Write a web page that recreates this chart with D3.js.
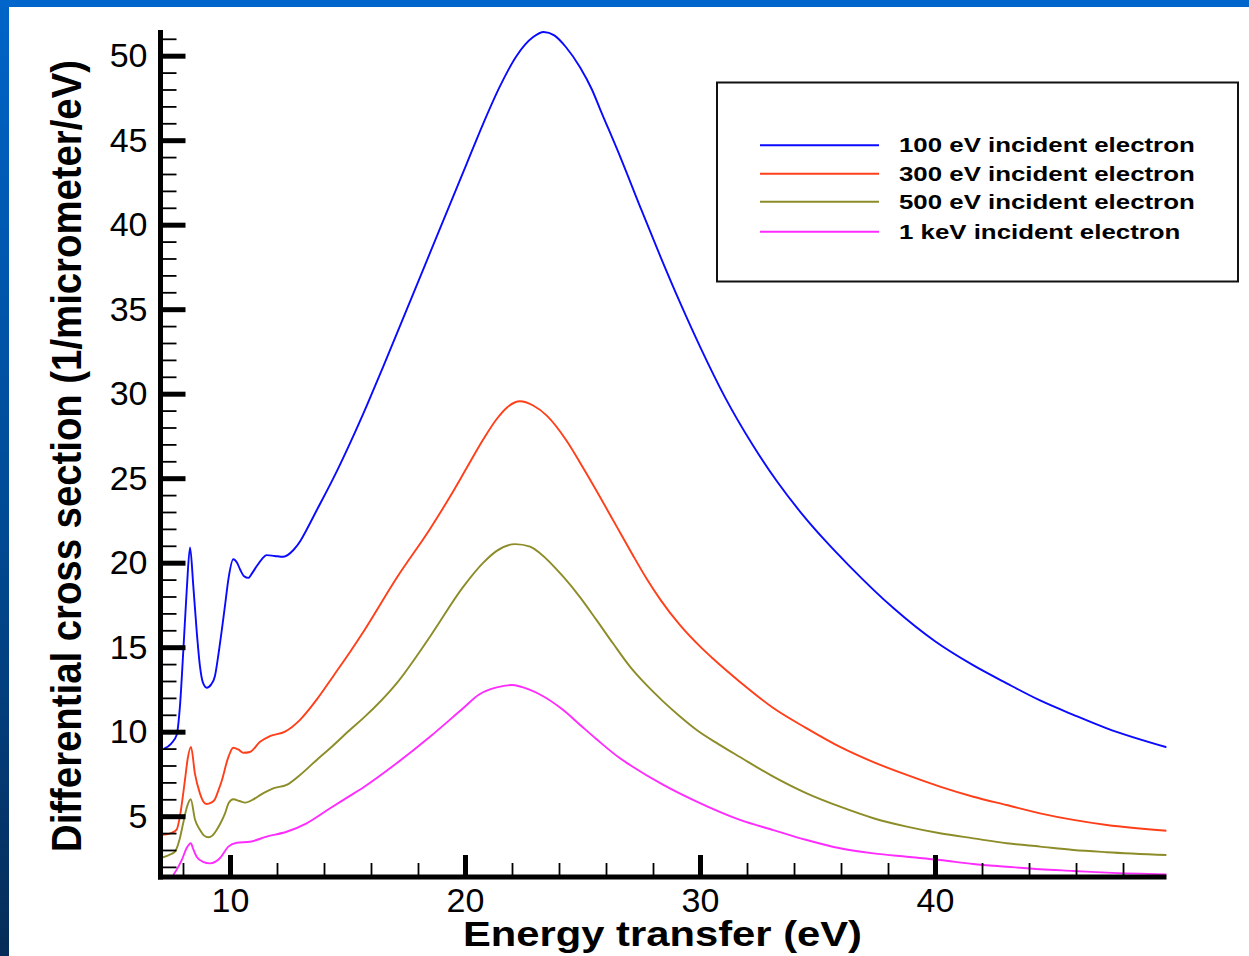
<!DOCTYPE html>
<html>
<head>
<meta charset="utf-8">
<script src="https://cdn.jsdelivr.net/npm/d3@7"></script>
<style>
  html, body { margin: 0; padding: 0; background: #ffffff; }
  svg { display: block; }
  text { font-family: "Liberation Sans", Arial, Helvetica, sans-serif; fill: #000; }
</style>
</head>
<body>
<svg id="chart" width="1249" height="956"></svg>
<script>
// Differential inelastic cross section vs. energy transfer, [E (eV), sigma (1/um/eV)]
const sigma100eV = [
  [7.2, 9.0], [7.5, 9.3], [7.73, 9.8], [7.87, 11.5], [8.01, 14.7], [8.16, 18.4], [8.3, 20.9],
  [8.44, 18.6], [8.58, 16.0], [8.72, 13.9], [8.85, 12.9], [9.01, 12.6], [9.2, 12.8], [9.36, 13.3],
  [9.5, 14.5], [9.65, 16.0], [9.8, 17.6], [9.93, 19.0], [10.14, 20.2], [10.3, 20.0], [10.43, 19.6],
  [10.6, 19.2], [10.78, 19.1], [10.95, 19.4], [11.14, 19.8], [11.35, 20.2], [11.56, 20.45],
  [11.9, 20.4], [12.27, 20.35], [12.7, 20.75], [13.0, 21.3], [13.26, 21.95], [13.69, 23.1],
  [14.4, 25.0], [15.1, 27.05], [15.82, 29.3], [16.52, 31.6], [17.23, 34.0], [17.94, 36.4],
  [18.65, 38.8], [19.36, 41.2], [20.07, 43.6], [20.78, 46.0], [21.49, 48.2], [22.2, 50.0],
  [22.9, 51.1], [23.35, 51.4], [23.8, 51.2], [24.3, 50.5], [24.9, 49.3], [25.4, 48.0],
  [25.76, 46.8], [26.61, 44.0], [27.47, 41.0], [28.32, 38.1], [29.18, 35.3], [30.03, 32.7],
  [31.06, 29.8], [32.25, 26.95], [33.28, 24.8], [34.3, 22.95], [35.33, 21.3], [36.36, 19.8],
  [38.24, 17.3], [40.0, 15.35], [41.6, 13.95], [43.05, 12.86], [44.47, 11.85], [45.89, 11.0],
  [47.31, 10.2], [49.86, 9.08]
];
const sigma300eV = [
  [7.15, 3.9], [7.5, 4.0], [7.73, 4.2], [7.87, 5.0], [8.08, 7.1], [8.2, 8.4], [8.34, 9.1],
  [8.51, 7.5], [8.72, 6.35], [8.85, 5.9], [9.0, 5.72], [9.2, 5.8], [9.36, 6.0], [9.5, 6.5],
  [9.65, 7.1], [9.93, 8.5], [10.14, 9.05], [10.35, 8.95], [10.57, 8.75], [10.85, 8.8],
  [11.28, 9.4], [11.7, 9.74], [12.34, 10.0], [12.98, 10.7], [13.69, 11.9], [14.4, 13.3],
  [15.1, 14.7], [15.67, 15.9], [17.09, 19.1], [18.51, 22.0], [19.36, 23.9], [20.07, 25.6],
  [20.78, 27.3], [21.35, 28.5], [21.8, 29.2], [22.34, 29.55], [22.9, 29.3], [23.48, 28.7],
  [24.33, 27.2], [25.03, 25.6], [25.74, 23.9], [26.45, 22.15], [27.12, 20.5], [27.73, 19.05],
  [28.32, 17.8], [29.15, 16.3], [30.03, 15.0], [30.57, 14.3], [31.74, 12.9],
  [33.12, 11.4], [34.54, 10.2], [35.96, 9.1], [37.38, 8.2], [38.8, 7.44], [40.21, 6.75],
  [41.63, 6.15], [43.05, 5.66], [44.47, 5.17], [45.89, 4.78], [47.31, 4.48], [49.86, 4.14]
];
const sigma500eV = [
  [7.15, 2.57], [7.4, 2.7], [7.66, 2.9], [7.85, 3.6], [8.01, 4.6], [8.18, 5.6], [8.33, 6.0],
  [8.51, 4.8], [8.72, 4.2], [8.9, 3.85], [9.08, 3.75], [9.25, 3.85], [9.43, 4.18], [9.6, 4.6],
  [9.79, 5.17], [9.95, 5.8], [10.14, 6.0], [10.4, 5.9], [10.64, 5.8], [11.0, 6.0], [11.28, 6.25],
  [11.84, 6.65], [12.41, 6.85], [12.98, 7.44], [13.69, 8.33], [14.26, 9.02], [15.1, 10.1],
  [15.67, 10.8], [17.09, 12.86], [18.51, 15.62], [19.93, 18.58], [20.78, 20.0], [21.35, 20.7],
  [22.13, 21.1], [22.77, 20.95], [23.19, 20.56], [24.18, 19.17], [24.9, 17.95], [25.6, 16.6],
  [26.31, 15.2], [27.02, 13.85], [27.73, 12.75], [28.44, 11.78], [29.15, 10.9], [29.86, 10.1],
  [30.8, 9.25], [31.7, 8.5], [33.12, 7.34], [34.54, 6.35], [35.96, 5.56], [37.38, 4.88],
  [38.8, 4.38], [40.21, 3.99], [41.63, 3.69], [43.05, 3.4], [44.47, 3.2], [45.89, 3.0],
  [47.31, 2.87], [49.86, 2.7]
];
const sigma1keV = [
  [7.59, 1.52], [7.8, 2.0], [7.95, 2.41], [8.15, 3.1], [8.33, 3.4], [8.45, 3.0], [8.58, 2.6],
  [8.85, 2.3], [9.15, 2.21], [9.57, 2.51], [9.93, 3.2], [10.29, 3.43], [10.85, 3.49],
  [11.56, 3.79], [12.41, 4.08], [13.26, 4.58], [14.26, 5.47], [15.1, 6.2], [15.67, 6.7],
  [17.09, 8.13], [18.51, 9.7], [19.93, 11.4], [20.6, 12.2], [21.35, 12.62], [21.99, 12.76],
  [22.77, 12.47], [23.19, 12.2], [24.18, 11.28], [24.9, 10.4], [25.6, 9.55], [26.61, 8.41],
  [27.02, 8.03], [28.44, 6.85], [29.86, 5.86], [31.7, 4.78], [33.12, 4.18], [34.54, 3.59],
  [35.96, 3.1], [37.38, 2.8], [38.8, 2.6], [40.21, 2.41], [41.63, 2.17], [43.05, 2.01],
  [44.47, 1.86], [45.89, 1.76], [47.31, 1.66], [49.86, 1.56]
];

const seriesNames = ["100 eV incident electron", "300 eV incident electron",
                     "500 eV incident electron", "1 keV incident electron"];
const seriesColors = ["#0a0aff", "#ff3f1a", "#8c8c28", "#ff2cff"];
const seriesData = [sigma100eV, sigma300eV, sigma500eV, sigma1keV];

const xMajorTicks = [10, 20, 30, 40];
const xMinorTicks = [8, 12, 14, 16, 18, 22, 24, 26, 28, 32, 34, 36, 38, 42, 44, 46, 48];
const yMajorTicks = [5, 10, 15, 20, 25, 30, 35, 40, 45, 50];
const yMinorTicks = d3.range(2, 52).filter(v => v % 5 !== 0);

const xTitle = "Energy transfer (eV)";
const yTitle = "Differential cross section (1/micrometer/eV)";

// ---- layout ----
const svg = d3.select("#chart");
const W = 1249, H = 956;
const plot = { left: 160.5, right: 1166.5, top: 30, bottom: 877 };

const x = d3.scaleLinear().domain([7.043, 49.85]).range([plot.left, plot.right]);
const y = d3.scaleLinear().domain([1.402, 51.52]).range([plot.bottom, plot.top]);

// slide frame: blue top band and darker left band
const defs = svg.append("defs");
const grad = defs.append("linearGradient").attr("id", "sideGrad")
  .attr("x1", 0).attr("y1", 0).attr("x2", 0).attr("y2", 1);
grad.append("stop").attr("offset", "0%").attr("stop-color", "#0064c8");
grad.append("stop").attr("offset", "55%").attr("stop-color", "#004a94");
grad.append("stop").attr("offset", "100%").attr("stop-color", "#062c58");
svg.append("rect").attr("x", 0).attr("y", 0).attr("width", W).attr("height", H).attr("fill", "#ffffff");
svg.append("rect").attr("x", 0).attr("y", 0).attr("width", 9).attr("height", H).attr("fill", "url(#sideGrad)");
svg.append("rect").attr("x", 0).attr("y", 0).attr("width", W).attr("height", 7).attr("fill", "#0066cc");

defs.append("clipPath").attr("id", "plotClip").append("rect")
  .attr("x", plot.left).attr("y", plot.top)
  .attr("width", plot.right - plot.left).attr("height", plot.bottom - plot.top);

// ---- curves ----
const line = d3.line().x(d => x(d[0])).y(d => y(d[1])).curve(d3.curveMonotoneX);
const curves = svg.append("g").attr("clip-path", "url(#plotClip)");
seriesData.forEach((data, i) => {
  curves.append("path").datum(data)
    .attr("d", line)
    .attr("fill", "none")
    .attr("stroke", seriesColors[i])
    .attr("stroke-width", 1.9)
    .attr("stroke-linejoin", "round");
});

// ---- axes ----
const fontTick = "34px";

// x minor ticks
svg.append("g").attr("transform", `translate(0,${plot.bottom})`)
  .call(d3.axisBottom(x).tickValues(xMinorTicks).tickSize(-14).tickFormat(""))
  .call(g => g.select(".domain").remove())
  .call(g => g.selectAll(".tick line").attr("stroke", "#000").attr("stroke-width", 1.8));
// x major ticks + labels
svg.append("g").attr("transform", `translate(0,${plot.bottom})`)
  .call(d3.axisBottom(x).tickValues(xMajorTicks).tickSize(-22).tickPadding(11).tickFormat(d3.format("d")))
  .call(g => g.select(".domain").remove())
  .call(g => g.selectAll(".tick line").attr("stroke", "#000").attr("stroke-width", 5))
  .call(g => g.selectAll(".tick text").attr("font-size", fontTick)
    .style("font-family", '"Liberation Sans", Arial, sans-serif').attr("fill", "#000"));

// y minor ticks
svg.append("g").attr("transform", `translate(${plot.left},0)`)
  .call(d3.axisLeft(y).tickValues(yMinorTicks).tickSize(-16).tickFormat(""))
  .call(g => g.select(".domain").remove())
  .call(g => g.selectAll(".tick line").attr("stroke", "#000").attr("stroke-width", 1.8));
// y major ticks + labels
svg.append("g").attr("transform", `translate(${plot.left},0)`)
  .call(d3.axisLeft(y).tickValues(yMajorTicks).tickSize(-25).tickPadding(13).tickFormat(d3.format("d")))
  .call(g => g.select(".domain").remove())
  .call(g => g.selectAll(".tick line").attr("stroke", "#000").attr("stroke-width", 5))
  .call(g => g.selectAll(".tick text").attr("font-size", fontTick)
    .style("font-family", '"Liberation Sans", Arial, sans-serif').attr("fill", "#000"));

// axis lines
svg.append("line")
  .attr("x1", plot.left).attr("x2", plot.left)
  .attr("y1", plot.top).attr("y2", plot.bottom + 2.5)
  .attr("stroke", "#000").attr("stroke-width", 5);
svg.append("line")
  .attr("x1", plot.left - 2.5).attr("x2", plot.right)
  .attr("y1", plot.bottom).attr("y2", plot.bottom)
  .attr("stroke", "#000").attr("stroke-width", 5);

// axis titles
svg.append("text")
  .attr("x", 662.5).attr("y", 946)
  .attr("text-anchor", "middle")
  .attr("font-size", "35px").attr("font-weight", "bold")
  .attr("textLength", 399).attr("lengthAdjust", "spacingAndGlyphs")
  .text(xTitle);

svg.append("text")
  .attr("transform", "translate(81,456) rotate(-90)")
  .attr("text-anchor", "middle")
  .attr("font-size", "42px").attr("font-weight", "bold")
  .attr("textLength", 792).attr("lengthAdjust", "spacingAndGlyphs")
  .text(yTitle);

// ---- legend ----
const legend = svg.append("g");
legend.append("rect")
  .attr("x", 717).attr("y", 82.5).attr("width", 521).attr("height", 199)
  .attr("fill", "#fff").attr("stroke", "#111").attr("stroke-width", 2);
const legendRows = [145.3, 173.7, 201.7, 231.7];
seriesNames.forEach((name, i) => {
  const ly = legendRows[i];
  legend.append("line")
    .attr("x1", 760).attr("x2", 879).attr("y1", ly).attr("y2", ly)
    .attr("stroke", seriesColors[i]).attr("stroke-width", 2);
  const t = legend.append("text")
    .attr("x", 899).attr("y", ly + 7)
    .attr("font-size", "21px").attr("font-weight", "bold")
    .text(name);
  const natural = t.node().getComputedTextLength();
  t.attr("textLength", natural * 1.23).attr("lengthAdjust", "spacingAndGlyphs");
});
</script>
</body>
</html>
